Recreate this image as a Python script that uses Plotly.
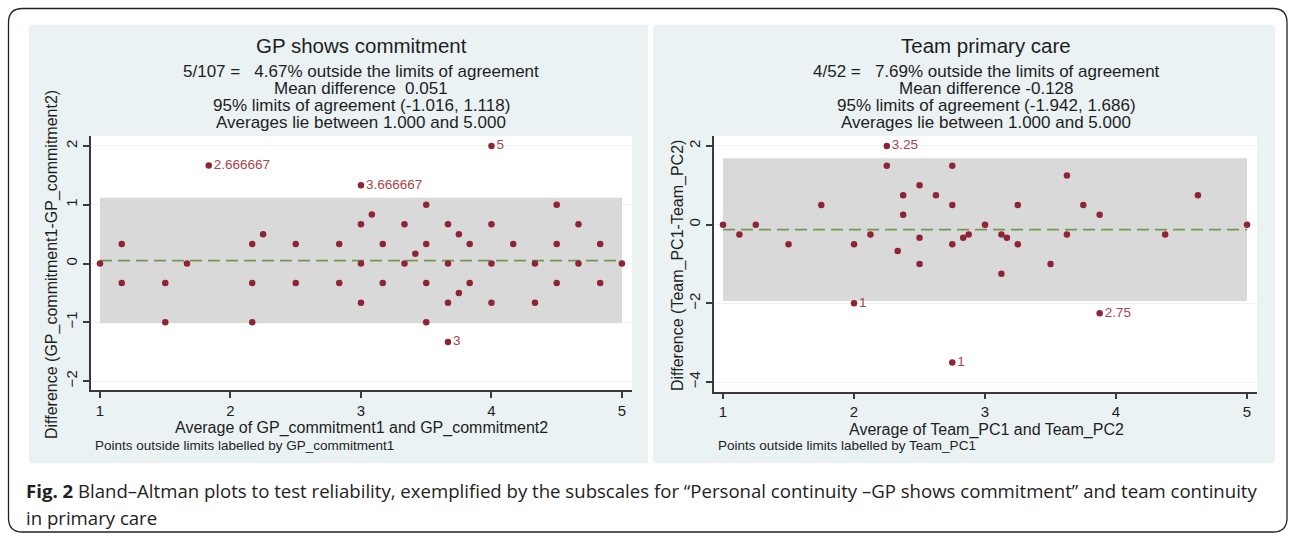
import plotly.graph_objects as go

W, H = 1292, 536

# ---------------- data ----------------
gp_avg = [1, 1.1667, 1.1667, 1.5, 1.5, 1.6667, 2.1667, 2.1667, 2.1667, 2.25, 2.5, 2.5,
          2.8333, 2.8333, 3.0, 3.0, 3.0, 3.0833, 3.1667, 3.1667, 3.3333, 3.3333, 3.4167,
          3.5, 3.5, 3.5, 3.5, 3.6667, 3.6667, 3.6667, 3.75, 3.75, 3.8333, 3.8333,
          4.0, 4.0, 4.0, 4.1667, 4.3333, 4.3333, 4.5, 4.5, 4.5, 4.6667, 4.6667,
          4.8333, 4.8333, 5.0]
gp_diff = [0, 0.3333, -0.3333, -0.3333, -1, 0, 0.3333, -0.3333, -1, 0.5, 0.3333, -0.3333,
           0.3333, -0.3333, 0.6667, 0, -0.6667, 0.8333, 0.3333, -0.3333, 0.6667, 0, 0.1667,
           1.0, 0.3333, -0.3333, -1.0, 0.6667, 0, -0.6667, 0.5, -0.5, 0.3333, -0.3333,
           0.6667, 0, -0.6667, 0.3333, 0, -0.6667, 1.0, 0.3333, -0.3333, 0.6667, 0,
           0.3333, -0.3333, 0]
gp_out_avg = [1.8333, 3.0, 4.0, 3.6667]
gp_out_diff = [1.6667, 1.3333, 2.0, -1.3333]
gp_out_label = ["2.666667", "3.666667", "5", "3"]
gp_mean, gp_lo, gp_hi = 0.051, -1.016, 1.118

tm_avg = [1, 1.125, 1.25, 1.5, 1.75, 2.0, 2.125, 2.25, 2.3333, 2.375, 2.375, 2.5, 2.5, 2.5,
          2.625, 2.75, 2.75, 2.75, 2.8333, 2.875, 3.0, 3.125, 3.125, 3.1667, 3.25, 3.25,
          3.5, 3.625, 3.625, 3.75, 3.875, 4.375, 4.625, 5.0]
tm_diff = [0, -0.25, 0, -0.5, 0.5, -0.5, -0.25, 1.5, -0.6667, 0.75, 0.25, 1.0, -0.3333, -1.0,
           0.75, 1.5, 0.5, -0.5, -0.3333, -0.25, 0, -0.25, -1.25, -0.3333, 0.5, -0.5,
           -1.0, 1.25, -0.25, 0.5, 0.25, -0.25, 0.75, 0]
tm_out_avg = [2.25, 2.0, 2.75, 3.875]
tm_out_diff = [2.0, -2.0, -3.5, -2.25]
tm_out_label = ["3.25", "1", "1", "2.75"]
tm_mean, tm_lo, tm_hi = -0.128, -1.942, 1.686

x_ticks = [1, 2, 3, 4, 5]
gp_yticks = [-2, -1, 0, 1, 2]
tm_yticks = [-4, -2, 0, 2]

left_title = "GP shows commitment"
left_sub = ["5/107 =\u00a0\u00a0\u00a04.67% outside the limits of agreement",
            "Mean difference\u00a0\u00a00.051",
            "95% limits of agreement (-1.016, 1.118)",
            "Averages lie between 1.000 and 5.000"]
right_title = "Team primary care"
right_sub = ["4/52 =\u00a0\u00a0\u00a07.69% outside the limits of agreement",
             "Mean difference -0.128",
             "95% limits of agreement (-1.942, 1.686)",
             "Averages lie between 1.000 and 5.000"]

# ---------------- styles ----------------
FONT = "Arial, Liberation Sans, sans-serif"
PANEL = "#EAF2F3"
BAND = "#D9D9D9"
MARK = "#8E2435"
LAB = "#A8444C"
MEANC = "#759950"
AXC = "#3a3a3a"
TXT = "#1e1e1e"


def px(x):
    return x / W


def py(y):
    return 1 - y / H


fig = go.Figure()

panels = [
    dict(xa="x", ya="y", avg=gp_avg, diff=gp_diff, oa=gp_out_avg, od=gp_out_diff, ol=gp_out_label,
         mean=gp_mean, lo=gp_lo, hi=gp_hi),
    dict(xa="x2", ya="y2", avg=tm_avg, diff=tm_diff, oa=tm_out_avg, od=tm_out_diff, ol=tm_out_label,
         mean=tm_mean, lo=tm_lo, hi=tm_hi),
]

shapes = []
# panel backgrounds
shapes.append(dict(type="rect", xref="paper", yref="paper", x0=px(29), x1=px(648), y0=py(463), y1=py(25),
                   fillcolor=PANEL, line=dict(width=0), layer="below"))
shapes.append(dict(type="rect", xref="paper", yref="paper", x0=px(653), x1=px(1275), y0=py(463), y1=py(25),
                   fillcolor=PANEL, line=dict(width=0), layer="below"))
# plot region white
shapes.append(dict(type="rect", xref="paper", yref="paper", x0=px(91), x1=px(632), y0=py(390), y1=py(136),
                   fillcolor="white", line=dict(width=0), layer="below"))
shapes.append(dict(type="rect", xref="paper", yref="paper", x0=px(714), x1=px(1257), y0=py(391.7), y1=py(136),
                   fillcolor="white", line=dict(width=0), layer="below"))

for p in panels:
    shapes.append(dict(type="rect", xref=p["xa"], yref=p["ya"], x0=min(x_ticks), x1=max(x_ticks),
                       y0=p["lo"], y1=p["hi"], fillcolor=BAND, line=dict(width=0), layer="between"))
    fig.add_trace(go.Scatter(x=[min(x_ticks), max(x_ticks)], y=[p["mean"], p["mean"]], mode="lines",
                             line=dict(color=MEANC, width=1.8, dash="12px,6px"),
                             xaxis=p["xa"], yaxis=p["ya"], showlegend=False, hoverinfo="skip"))
    fig.add_trace(go.Scatter(x=p["avg"], y=p["diff"], mode="markers",
                             marker=dict(color=MARK, size=6.5),
                             xaxis=p["xa"], yaxis=p["ya"], showlegend=False))
    fig.add_trace(go.Scatter(x=p["oa"], y=p["od"], mode="markers+text", text=p["ol"],
                             textposition="middle right",
                             textfont=dict(color=LAB, size=13.5, family=FONT),
                             marker=dict(color=MARK, size=6.5),
                             xaxis=p["xa"], yaxis=p["ya"], showlegend=False))

# rounded outer border
x0, y0, x1, y1, r = 8.5, 8.5, 1287, 532, 14
path = (f"M {px(x0 + r)},{py(y0)} L {px(x1 - r)},{py(y0)} Q {px(x1)},{py(y0)} {px(x1)},{py(y0 + r)} "
        f"L {px(x1)},{py(y1 - r)} Q {px(x1)},{py(y1)} {px(x1 - r)},{py(y1)} "
        f"L {px(x0 + r)},{py(y1)} Q {px(x0)},{py(y1)} {px(x0)},{py(y1 - r)} "
        f"L {px(x0)},{py(y0 + r)} Q {px(x0)},{py(y0)} {px(x0 + r)},{py(y0)} Z")
shapes.append(dict(type="path", xref="paper", yref="paper", path=path, line=dict(color="#222", width=1.3),
                   layer="above"))

axis_common = dict(showline=True, linecolor=AXC, linewidth=1.5, ticks="outside", ticklen=6,
                   tickcolor=AXC, tickwidth=1.5, zeroline=False, tickfont=dict(size=15, color=TXT, family=FONT),
                   fixedrange=True)

fig.update_layout(
    width=W, height=H, margin=dict(l=0, r=0, t=0, b=0),
    paper_bgcolor="white", plot_bgcolor="rgba(0,0,0,0)",
    font=dict(family=FONT, color=TXT),
    shapes=shapes,
    xaxis=dict(domain=[px(91), px(632)], range=[0.931, 5.077], tickvals=x_ticks, showgrid=False,
               anchor="y", ticklabelstandoff=0, **axis_common),
    yaxis=dict(domain=[py(390), py(136)], range=[-2.152, 2.170], tickvals=gp_yticks, showgrid=True,
               gridcolor=PANEL, gridwidth=1.2, tickangle=-90, anchor="x", **axis_common),
    xaxis2=dict(domain=[px(714), px(1257)], range=[0.931, 5.076], tickvals=x_ticks, showgrid=False,
                anchor="y2", ticklabelstandoff=0, **axis_common),
    yaxis2=dict(domain=[py(391.7), py(136)], range=[-4.245, 2.254], tickvals=tm_yticks, showgrid=True,
                gridcolor=PANEL, gridwidth=1.2, tickangle=-90, anchor="x2", **axis_common),
)

ann = []


def text(x, y, s, size, color=TXT, xanchor="center", angle=0, family=FONT):
    ann.append(dict(x=px(x), y=py(y), xref="paper", yref="paper", text=s, showarrow=False,
                    xanchor=xanchor, yanchor="middle", textangle=angle,
                    font=dict(size=size, color=color, family=family)))


for cx, title, subs in [(361, left_title, left_sub), (986, right_title, right_sub)]:
    text(cx, 46, title, 20.5)
    for i, s in enumerate(subs):
        text(cx, 72 + i * 16.8, s, 17)

text(361, 427.5, "Average of GP_commitment1 and GP_commitment2", 16)
text(986, 429.5, "Average of Team_PC1 and Team_PC2", 16)
text(93, 445, "Points outside limits labelled by GP_commitment1", 13.5, xanchor="left")
text(716, 445, "Points outside limits labelled by Team_PC1", 13.5, xanchor="left")
text(52, 265, "Difference (GP_commitment1-GP_commitment2)", 16, angle=-90)
text(678, 265, "Difference (Team_PC1-Team_PC2)", 16, angle=-90)

CAP = "Open Sans, sans-serif"
text(24, 490, "<b>Fig. 2</b> Bland\u2013Altman plots to test reliability, exemplified by the subscales for "
              "\u201cPersonal continuity \u2013GP shows commitment\u201d and team continuity",
     18.6, color="#222", xanchor="left", family=CAP)
text(24, 517, "in primary care", 18.6, color="#222", xanchor="left", family=CAP)

fig.update_layout(annotations=ann)
fig.write_html("out.html", config={"displayModeBar": False},
               post_script="document.body.style.margin='0';document.body.style.overflow='hidden';")
